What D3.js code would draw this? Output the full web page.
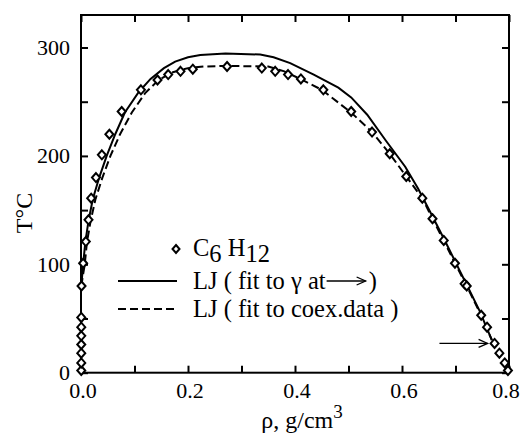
<!DOCTYPE html>
<html><head><meta charset="utf-8">
<script src="https://cdn.jsdelivr.net/npm/d3@7"></script>
<style>body{margin:0;background:#fff}svg{display:block}</style>
</head><body><svg id="c" width="523" height="433"></svg>
<script>
// Experimental C6H12 coexistence points
const expRho = [0.0005,0.0005,0.0005,0.0005,0.0005,0.0005,0.0005,0.001,0.004,0.009,0.014,0.019,0.028,0.039,0.053,0.076,0.112,0.143,0.163,0.186,0.209,0.273,
  0.338,0.363,0.387,0.411,0.453,0.505,0.544,0.577,0.608,0.638,0.657,0.678,0.699,0.717,0.721,0.748,0.759,0.773,0.782,0.792,0.798];
const expT = [2,9,18,26,34,42,51,80,101,121,141,161,180,201,220,241,261,270,275,278,280,282.5,
  281,278,275,271,261,241,222,202,181,161,142,122,101,82,80,53,42,27,18,9,2];
// LJ fit to gamma (solid)
const solidRho = [0.0005,0.004,0.008,0.014,0.022,0.034,0.048,0.064,0.082,0.108,0.13,0.155,0.176,0.2,0.223,0.27,0.335,0.36,0.391,0.435,0.481,0.505,0.535,0.57,0.606,0.63,0.653,0.68,0.70,0.72,0.745,0.768];
const solidT   = [80,100,120,140,160,180,200,220,240,259,271,281,287,291,293,294.5,293.5,291,285.6,275,263,254,238,214,190,170,148,122,102,82,57,30];
// LJ fit to coexistence data (dashed)
const dashRho = [0.0005,0.007,0.011,0.018,0.027,0.040,0.055,0.073,0.095,0.12,0.145,0.17,0.2,0.229,0.27,0.35,0.38,0.41,0.45,0.505,0.544,0.577,0.608,0.638,0.657,0.678,0.699,0.719,0.748,0.768];
const dashT   = [80,100,120,140,160,180,200,220,240,258,270,277,281,282.5,283,282.5,278,271,261,240,222,202,181,161,142,122,101,82,53,30];
// annotation arrow (rho range, T)
const arrowRho = [0.67,0.76];
const arrowT = [27,27];
const xTickLabels = [0.0,0.2,0.4,0.6,0.8];
const xMinor = [0.1,0.3,0.5,0.7];
const yTickLabels = [0,100,200,300];
const yMinor = [50,150,250];

const FONT = "Liberation Serif, Times New Roman, serif";
const svg = d3.select("#c");
const L=81,R=509,T0=15,B=372.7;
const x = d3.scaleLinear().domain([0,0.8]).range([L,R]);
const y = d3.scaleLinear().domain([0,330]).range([B,T0]);

// frame
svg.append("rect").attr("x",L).attr("y",T0).attr("width",R-L).attr("height",B-T0)
  .attr("fill","none").attr("stroke","#000").attr("stroke-width",2);

const allX = xTickLabels.concat(xMinor), allY = yTickLabels.concat(yMinor);
const tk = 7;
function clean(g){g.select(".domain").remove();g.selectAll("line").attr("stroke-width",2);}
svg.append("g").attr("transform",`translate(0,${B})`)
  .call(d3.axisBottom(x).tickValues(allX).tickSize(-tk).tickFormat("")).call(clean);
svg.append("g").attr("transform",`translate(0,${T0})`)
  .call(d3.axisTop(x).tickValues(allX).tickSize(-tk).tickFormat("")).call(clean);
svg.append("g").attr("transform",`translate(${L},0)`)
  .call(d3.axisLeft(y).tickValues(allY).tickSize(-tk).tickFormat("")).call(clean);
svg.append("g").attr("transform",`translate(${R},0)`)
  .call(d3.axisRight(y).tickValues(allY).tickSize(-tk).tickFormat("")).call(clean);

function txt(){return svg.append("text").style("font-family",FONT).attr("fill","#000");}

// tick labels
xTickLabels.forEach(d=>txt().attr("x",Math.min(x(d)+2,506)).attr("y",B+25).attr("text-anchor","middle").attr("font-size",22).text(d.toFixed(1)));
yTickLabels.forEach(d=>txt().attr("x",L-11).attr("y",y(d)+7.5).attr("text-anchor","end").attr("font-size",22).text(d));

// axis titles
const xt = txt().attr("x",302).attr("y",428).attr("text-anchor","middle").attr("font-size",24);
xt.append("tspan").text("ρ, g/cm");
xt.append("tspan").attr("dy",-10).attr("font-size",19).text("3");
txt().attr("transform","translate(32,213) rotate(-90)").attr("text-anchor","middle")
  .attr("font-size",24).text("T°C");

// curves
const line = d3.line().x(d=>x(d[0])).y(d=>y(d[1]));
svg.append("path").datum(solidRho.map((r,i)=>[r,solidT[i]])).attr("d",line)
  .attr("fill","none").attr("stroke","#000").attr("stroke-width",2);
svg.append("path").datum(dashRho.map((r,i)=>[r,dashT[i]])).attr("d",line)
  .attr("fill","none").attr("stroke","#000").attr("stroke-width",2).attr("stroke-dasharray","8,4");

// markers
const diamond = (cx,cy,w,h)=>`M${cx},${cy-h}L${cx+w},${cy}L${cx},${cy+h}L${cx-w},${cy}Z`;
svg.append("g").selectAll("path").data(expRho.map((r,i)=>[r,expT[i]])).join("path")
  .attr("d",d=>diamond(x(d[0]),y(d[1]),4,4.5))
  .attr("fill","#fff").attr("stroke","#000").attr("stroke-width",2);

// annotation arrow
function arrow(x1,y1,x2,y2){
  svg.append("line").attr("x1",x1).attr("y1",y1).attr("x2",x2).attr("y2",y2).attr("stroke","#000").attr("stroke-width",1.3);
  svg.append("path").attr("d",`M${x2-9},${y1-4}L${x2},${y2}L${x2-9},${y1+4}`).attr("fill","none").attr("stroke","#000").attr("stroke-width",1.3);
}
arrow(x(arrowRho[0]),y(arrowT[0]),x(arrowRho[1]),y(arrowT[1]));

// legend
svg.append("path").attr("d",diamond(176,249,3.5,4)).attr("fill","#fff").attr("stroke","#000").attr("stroke-width",2);
const t1 = txt().attr("x",193).attr("y",256).attr("font-size",24.5);
t1.append("tspan").text("C");
t1.append("tspan").attr("dy",6).text("6");
t1.append("tspan").attr("dy",-6).text(" H");
t1.append("tspan").attr("dy",6).text("12");

svg.append("line").attr("x1",118).attr("x2",177).attr("y1",281).attr("y2",281).attr("stroke","#000").attr("stroke-width",2);
const r1 = txt().attr("x",193).attr("y",289).attr("font-size",24.5).text("LJ ( fit to γ at");
const r1end = 193 + r1.node().getComputedTextLength();
arrow(r1end+1,281,r1end+40,281);
txt().attr("x",r1end+43).attr("y",289).attr("font-size",24.5).text(")");

svg.append("line").attr("x1",118).attr("x2",177).attr("y1",309).attr("y2",309).attr("stroke","#000").attr("stroke-width",2).attr("stroke-dasharray","8,4");
txt().attr("x",193).attr("y",317).attr("font-size",24.5).text("LJ ( fit to coex.data )");
</script></body></html>
